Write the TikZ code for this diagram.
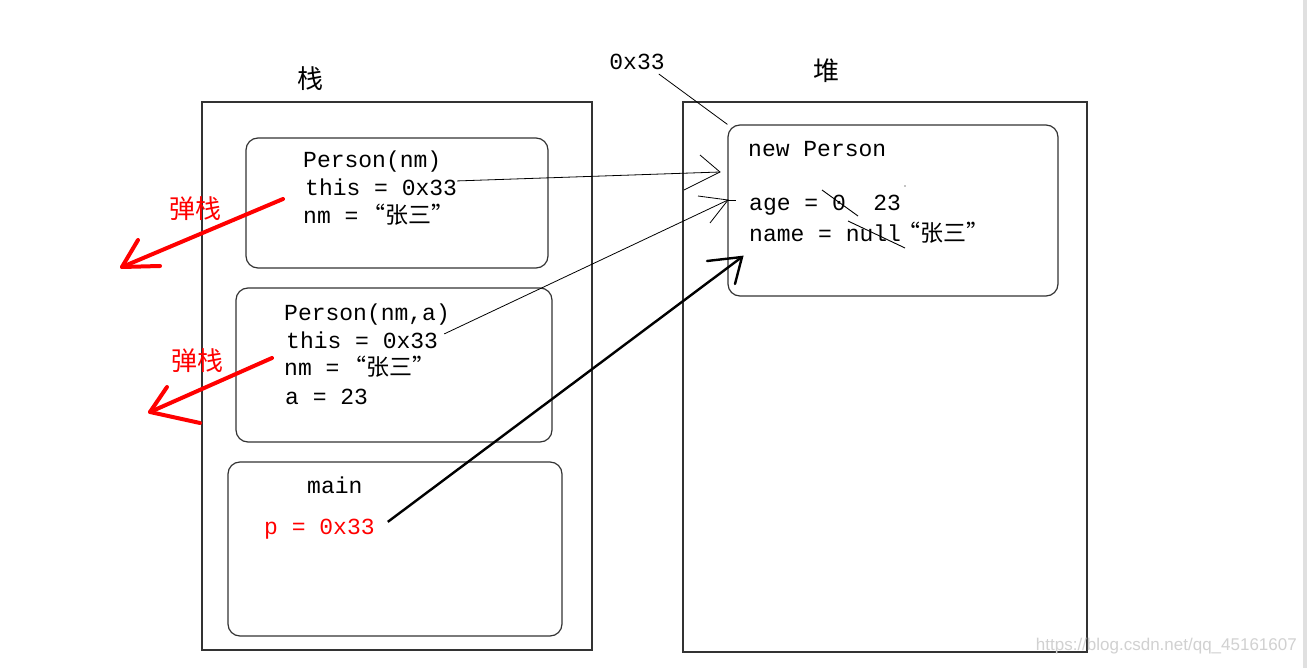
\documentclass[tikz,border=0pt]{standalone}
\usepackage{fontspec}
\setmonofont{Liberation Mono}
\newfontfamily\cjk{Noto Sans CJK SC}
\newfontfamily\wmfont{Liberation Sans}
\begin{document}
\begin{tikzpicture}[x=1pt,y=-1pt,
  slot/.style={draw=black!80, line width=1.2pt, rounded corners=12pt},
  code/.style={font=\ttfamily\fontsize{23}{23}\selectfont, anchor=mid west, inner sep=0pt},
  han/.style={font=\cjk\fontsize{26}{26}\selectfont, inner sep=0pt},
  ptr/.style={line width=0.8pt},
  bold ptr/.style={line width=2.4pt},
  pop/.style={draw=red, line width=4pt, line cap=round, line join=round},
  strike/.style={line width=0.9pt}
]
\useasboundingbox (0,0) rectangle (1307,668);
\fill[white] (0,0) rectangle (1307,668);
\fill[black!12] (1303,0) rectangle (1307,668);

% frames
\node (stack) [draw=black!80, line width=1.6pt, minimum width=390pt, minimum height=548pt, inner sep=0pt] at (397,376) {};
\node (heap) [draw=black!80, line width=1.6pt, minimum width=404pt, minimum height=550pt, inner sep=0pt] at (885,377) {};
\node (stacklbl) [han] at (310,79) {栈};
\node (heaplbl) [han] at (826,71) {堆};

% stack frames
\node (f1) [slot, minimum width=302pt, minimum height=130pt, inner sep=0pt] at (397,203) {};
\node (f2) [slot, minimum width=316pt, minimum height=154pt, inner sep=0pt] at (394,365) {};
\node (f3) [slot, minimum width=334pt, minimum height=174pt, inner sep=0pt] at (395,549) {};
\node (obj) [slot, minimum width=330pt, minimum height=171pt, inner sep=0pt] at (893,210.5) {};

% texts in frame 1
\node (p1a) [code] at (303,165) {Person(nm)};
\node (p1b) [code] at (305,193) {this = 0x33};
\node (p1c) [code] at (303,221) {nm = {\cjk\kern-10pt“张三”}};
% frame 2
\node (p2a) [code] at (284,318) {Person(nm,a)};
\node (p2b) [code] at (286,346) {this = 0x33};
\node (p2c) [code] at (284,373) {nm = {\cjk\kern-10pt“张三”}};
\node (p2d) [code] at (285,402) {a = 23};
% main
\node (mainlbl) [code] at (307,491) {main};
\node (pv) [code, text=red] at (264,532) {p = 0x33};
% heap object
\node (h1) [code] at (748,154) {new Person};
\node (h2) [code] at (749,208) {age = 0\ \ 23};
\node (h3) [code] at (749,239) {name = null{\cjk\kern-4pt“张三”}};
\draw[strike] (822,190) -- (858,216);
\draw[strike] (848,221) -- (905,248);
\fill (905,186) circle (0.6pt);

% address label
\node (addr) [code, anchor=center] at (637,62) {0x33};
\draw[ptr] (addr.south east) ++(-6,4) -- (obj.north west);

% red pop labels and arrows
\node (r1) [han, text=red] at (195,209) {弹栈};
\node (r2) [han, text=red] at (197,361) {弹栈};
\coordinate (r1s) at (283,199);
\coordinate (r1t) at (122,267);
\draw[pop] (r1s) -- (r1t);
\draw[pop] (138,240) -- (r1t) -- (160,266);
\coordinate (r2s) at (272,358);
\coordinate (r2t) at (150,412);
\draw[pop] (r2s) -- (r2t);
\draw[pop] (167,387) -- (r2t) -- (200,423);

% pointer arrows
\coordinate (t1) at (720,172);
\draw[ptr] (p1b.east) ++(0,-6) -- (t1);
\draw[ptr] (700,155) -- (t1) -- (684,190);

\coordinate (t2) at (728,200);
\draw[ptr] (p2b.east) ++(6,-6) -- (t2);
\draw[ptr] (698,196) -- (t2) -- (710,223);
\draw[ptr] (t2) -- (736,200);

\coordinate (t3) at (742,257);
\draw[bold ptr] (pv.east) ++(13,-7) -- (t3);
\draw[bold ptr, line cap=round] (707,261) -- (t3) -- (735,284);

% watermark
\node (wm) [font=\wmfont\fontsize{17}{17}\selectfont, text=black!18, anchor=mid east, inner sep=0pt] at (1297,648) {https://blog.csdn.net/qq\_45161607};
\end{tikzpicture}
\end{document}
